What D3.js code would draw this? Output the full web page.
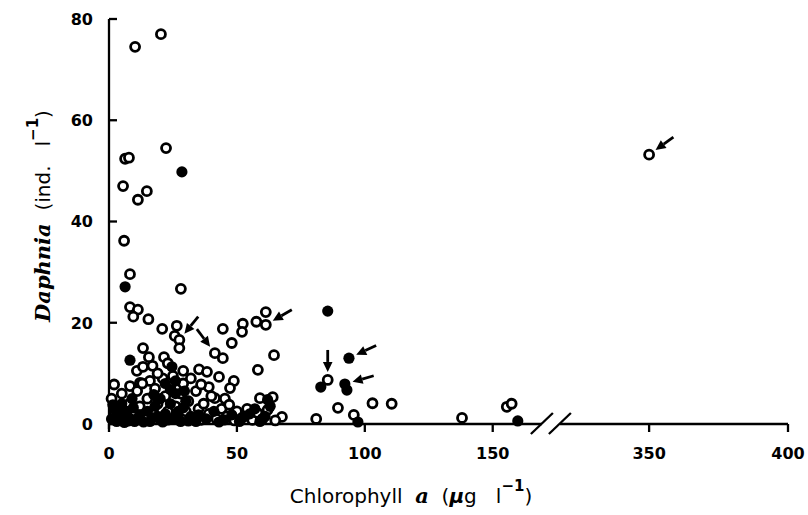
<!DOCTYPE html>
<html>
<head>
<meta charset="utf-8">
<script src="https://cdn.jsdelivr.net/npm/d3@7"></script>
<style>
  body { margin: 0; background: #fff; }
  svg { display: block; }
  .tick-label { font-family: "DejaVu Sans", sans-serif; font-weight: bold; font-size: 16px; }
  .axis-title { font-family: "DejaVu Sans", sans-serif; font-size: 20px; white-space: pre; }
  .it { font-family: "DejaVu Serif", serif; font-style: italic; font-weight: bold; }
</style>
</head>
<body>
<div id="chart"></div>
<script>
"use strict";
// x ticks (axis broken between ~170 and ~330)
const xTicks = [0, 50, 100, 150, 350, 400];
const yTicks = [0, 20, 40, 60, 80];

// open circles [chlorophyll a, Daphnia]
const openPts = [
    [10.2, 74.5], [20.3, 77], [22.3, 54.5], [6.3, 52.4], [7.8, 52.6], [5.5, 47], [14.8, 46], [11.3, 44.3],
    [5.9, 36.2], [8.2, 29.6], [28.1, 26.7], [8.2, 23.1], [11.3, 22.6], [9.5, 21.2], [15.4, 20.7],
    [20.8, 18.8], [26.5, 19.4], [25.7, 17.4], [27.5, 16.6], [27.5, 15], [44.5, 18.8], [52.3, 19.8],
    [52, 18.2], [48, 16], [57.6, 20.2], [61.3, 22.1], [61.3, 19.6], [64.5, 13.6], [58.2, 10.7],
    [13.3, 15], [15.6, 13.2], [10.9, 10.5], [13.3, 11.3], [21.5, 13.2], [35.2, 10.8], [38.3, 10.3],
    [41.4, 14], [44.5, 13], [43, 9.3], [39, 7.3], [48.8, 8.5], [47.3, 7.1], [41.4, 5.1], [45.3, 5],
    [59, 5.1], [64, 5.3], [8.2, 7.5], [12.1, 8.1], [85.5, 8.7], [89.5, 3.2], [103, 4.1], [110.5, 4],
    [81, 1], [95.7, 1.8], [67.6, 1.4], [138, 1.2], [155.5, 3.4], [157.4, 4], [350, 53.2],
    [1, 5], [2, 2.5], [3, 1], [4, 3.5], [5, 6], [6, 1.5], [8, 4], [9, 0.8], [10, 2.5], [11, 6.5],
    [12, 3.5], [14, 1.2], [15, 5], [16, 8.5], [17, 2.5], [18, 7], [19, 4], [20, 1], [21, 9], [22, 5.5],
    [23, 2.5], [24, 7.5], [26, 3.5], [27, 1], [28, 6], [29, 8], [30, 2.5], [31, 4.5], [33, 1.2],
    [34, 6.5], [35, 3], [36, 0.8], [37, 4], [39, 2], [40, 5.5], [42, 1], [44, 3], [46, 1.5], [47, 3.8],
    [49, 0.7], [50, 2.5], [52, 1.2], [54, 3], [56, 0.8], [58, 2.2], [60, 1], [62, 2.8], [65, 0.7],
    [2, 7.8], [13, 8], [19, 10], [25, 9.5], [32, 9], [36, 7.8], [29, 10.5], [17, 11.5], [23, 12]
];

// filled circles
const filledPts = [
    [28.5, 49.8], [6.3, 27.1], [8.2, 12.6], [24.6, 11.3], [85.5, 22.3], [93.8, 13], [82.8, 7.3],
    [92.2, 7.9], [93, 6.7], [97.3, 0.4], [159.8, 0.6],
    [1, 1], [2, 3], [3, 0.5], [4, 2], [5, 4], [6, 0.3], [7, 2.5], [8, 1], [9, 5], [10, 0.5],
    [12, 1.8], [15, 2.5], [16, 0.5], [18, 3.5], [19, 1.5], [20, 5], [21, 0.4], [22, 2], [24, 4],
    [25, 1], [26, 6], [27, 2.5], [28, 0.5], [30, 4.5], [32, 1.5], [34, 0.5], [38, 1], [41, 2.5],
    [43, 0.4], [48, 1.8], [51, 0.5], [55, 2], [57, 3], [61, 1.5], [63, 3.5], [26, 8.5], [22, 8],
    [1.5, 3.8], [3.5, 2.8], [5.5, 1.2], [7.5, 0.6], [9.5, 3.2], [11, 1], [13.5, 0.4], [17, 1.2],
    [23, 0.8], [26.5, 1.8], [29, 3.2], [31, 0.6], [35, 1.8], [29.5, 6.5], [24, 6.8], [17.5, 5.8],
    [45, 0.8], [53, 1.5], [59, 0.5], [62, 4.8]
];

// arrows: point they mark, and direction of travel (degrees, screen space)
const arrows = [
    { x: 27.5, y: 16.6, ang: 129 },
    { x: 41.4, y: 14, ang: 53 },
    { x: 61.3, y: 19.6, ang: 150 },
    { x: 93.8, y: 13, ang: 155 },
    { x: 85.5, y: 8.7, ang: 90 },
    { x: 92.2, y: 7.9, ang: 164 },
    { x: 350, y: 53.2, ang: 144 }
];

const W = 808, H = 515;
const svg = d3.select("#chart").append("svg").attr("width", W).attr("height", H);

// piecewise scale for the broken axis
const x = d3.scaleLinear().domain([0, 172, 328, 400]).range([109, 549, 588, 788]);
const y = d3.scaleLinear().domain([0, 80]).range([424, 19]);

const axisG = svg.append("g").attr("stroke", "#000").attr("stroke-width", 2.3).attr("fill", "none");
const breakL = x(170) - 2, breakR = breakL + 18;
axisG.append("line").attr("x1", x(0)).attr("x2", x(0)).attr("y1", y(80)).attr("y2", y(0) + 5);
axisG.append("line").attr("x1", x(0)).attr("x2", breakL).attr("y1", y(0)).attr("y2", y(0));
axisG.append("line").attr("x1", breakR).attr("x2", x(400)).attr("y1", y(0)).attr("y2", y(0));
[breakL, breakR].forEach(bx => {
    axisG.append("line").attr("x1", bx - 11).attr("y1", y(0) + 10).attr("x2", bx + 11).attr("y2", y(0) - 11);
});
axisG.selectAll(".ytick").data(yTicks).join("line")
    .attr("x1", x(0)).attr("x2", x(0) + 8).attr("y1", d => y(d)).attr("y2", d => y(d));
axisG.selectAll(".xtick").data(xTicks).join("line")
    .attr("x1", d => x(d)).attr("x2", d => x(d)).attr("y1", y(0)).attr("y2", y(0) + 8);

svg.selectAll(".ylab").data(yTicks).join("text")
    .attr("class", "tick-label")
    .attr("x", x(0) - 16).attr("y", d => y(d)).attr("dy", "0.36em")
    .attr("text-anchor", "end").text(d => d);
svg.selectAll(".xlab").data(xTicks).join("text")
    .attr("class", "tick-label")
    .attr("x", d => x(d)).attr("y", y(0) + 35)
    .attr("text-anchor", "middle").text(d => d);

// axis titles
const xt = svg.append("text").attr("class", "axis-title")
    .attr("x", 411).attr("y", 503).attr("text-anchor", "middle");
xt.append("tspan").text("Chlorophyll  ");
xt.append("tspan").attr("class", "it").attr("font-size", 21).text("a");
xt.append("tspan").text("  (");
xt.append("tspan").attr("font-style", "italic").attr("font-weight", "bold").text("μ");
xt.append("tspan").text("g   l");
xt.append("tspan").attr("dy", -12).attr("font-size", 15).attr("font-weight", "bold").text("−1");
xt.append("tspan").attr("dy", 12).text(")");

const yt = svg.append("text").attr("class", "axis-title")
    .attr("transform", "translate(50,216) rotate(-90)").attr("text-anchor", "middle");
yt.append("tspan").attr("class", "it").attr("font-size", 21).text("Daphnia");
yt.append("tspan").text("  (ind.   l");
yt.append("tspan").attr("dy", -12).attr("font-size", 15).attr("font-weight", "bold").text("−1");
yt.append("tspan").attr("dy", 12).text(")");

// points
svg.append("g").selectAll("circle").data(openPts).join("circle")
    .attr("cx", d => x(d[0])).attr("cy", d => y(d[1])).attr("r", 4.5)
    .attr("fill", "#fff").attr("stroke", "#000").attr("stroke-width", 2.8);
svg.append("g").selectAll("circle").data(filledPts).join("circle")
    .attr("cx", d => x(d[0])).attr("cy", d => y(d[1])).attr("r", 5.6)
    .attr("fill", "#000");

// arrows
const arrowG = svg.append("g");
arrows.forEach(a => {
    const t = a.ang * Math.PI / 180;
    const ux = Math.cos(t), uy = Math.sin(t);
    const px = -uy, py = ux;
    const cx = x(a.x), cy = y(a.y);
    const tipX = cx - ux * 8, tipY = cy - uy * 8;
    const tailX = tipX - ux * 22, tailY = tipY - uy * 22;
    const bx = tipX - ux * 10, by = tipY - uy * 10;
    arrowG.append("line").attr("x1", tailX).attr("y1", tailY).attr("x2", bx).attr("y2", by)
        .attr("stroke", "#000").attr("stroke-width", 2.8);
    arrowG.append("path")
        .attr("d", `M${tipX},${tipY}L${bx + px * 4.8},${by + py * 4.8}L${bx - px * 4.8},${by - py * 4.8}Z`)
        .attr("fill", "#000");
});
</script>
</body>
</html>
